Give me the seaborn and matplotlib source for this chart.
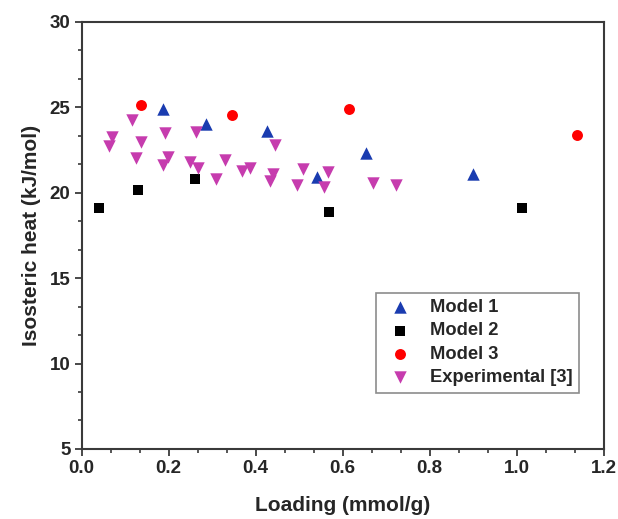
import numpy as np
import pandas as pd
import matplotlib
matplotlib.use("Agg")
import matplotlib.pyplot as plt
from matplotlib.ticker import MultipleLocator, AutoMinorLocator
import seaborn as sns

# ---- data ----
m1_x = [0.188, 0.287, 0.427, 0.541, 0.653, 0.899]
m1_y = [24.9, 24.0, 23.6, 20.93, 22.3, 21.1]

m2_x = [0.041, 0.129, 0.260, 0.569, 1.013]
m2_y = [19.12, 20.13, 20.79, 18.87, 19.12]

m3_x = [0.136, 0.346, 0.614, 1.139]
m3_y = [25.12, 24.54, 24.89, 23.40]

exp_x = [0.117, 0.069, 0.063, 0.136, 0.125, 0.191, 0.263, 0.199, 0.188, 0.249,
         0.267, 0.329, 0.310, 0.369, 0.387, 0.444, 0.441, 0.433, 0.509, 0.494,
         0.566, 0.557, 0.670, 0.723]
exp_y = [24.27, 23.26, 22.73, 22.95, 22.02, 23.51, 23.53, 22.06, 21.61, 21.77,
         21.47, 21.94, 20.78, 21.28, 21.42, 22.79, 21.12, 20.69, 21.39, 20.43,
         21.23, 20.34, 20.54, 20.43]

labels = ["Model 1", "Model 2", "Model 3", "Experimental [3]"]
xticks = [0.0, 0.2, 0.4, 0.6, 0.8, 1.0, 1.2]
yticks = [5, 10, 15, 20, 25, 30]

sns.set_style("white")
plt.rcParams['font.family'] = ['Liberation Sans', 'DejaVu Sans']
plt.rcParams['font.weight'] = 'bold'

fig = plt.figure(figsize=(6.18, 5.19), dpi=100)
ax = fig.add_axes([0.132, 0.135, 0.845, 0.823])

series = [
    (m1_x, m1_y, labels[0], '^', '#1a3cb0', 80),
    (m2_x, m2_y, labels[1], 's', '#000000', 58),
    (m3_x, m3_y, labels[2], 'o', '#ff0000', 62),
    (exp_x, exp_y, labels[3], 'v', '#c63cae', 80),
]
for xs, ys, lab, mk, col, s in series:
    df = pd.DataFrame({"Loading": xs, "Heat": ys})
    sns.scatterplot(data=df, x="Loading", y="Heat", ax=ax, marker=mk,
                    color=col, s=s, linewidth=0, label=lab)

ax.set_xlim(0, 1.2)
ax.set_ylim(5, 30)
ax.set_xticks(xticks)
ax.set_yticks(yticks)
ax.xaxis.set_minor_locator(AutoMinorLocator(3))
ax.yaxis.set_minor_locator(AutoMinorLocator(3))
ax.set_xticklabels([f"{v:.1f}" for v in xticks])
ax.set_yticklabels([str(v) for v in yticks])

for sp in ax.spines.values():
    sp.set_visible(True)
    sp.set_color('#3a3a3a')
    sp.set_linewidth(1.5)

ax.tick_params(axis='both', which='major', direction='out', length=5, width=1.3,
               color='#3a3a3a', labelsize=13.5, pad=3)
ax.tick_params(axis='both', which='minor', direction='out', length=3, width=1.2,
               color='#3a3a3a')
ax.tick_params(bottom=True, left=True, top=False, right=False, which='both')
for t in ax.get_xticklabels() + ax.get_yticklabels():
    t.set_fontweight('bold')

ax.set_xlabel("Loading (mmol/g)", fontsize=15, fontweight='bold', labelpad=14)
ax.set_ylabel("Isosteric heat (kJ/mol)", fontsize=15, fontweight='bold', labelpad=6)

leg = ax.legend(loc='upper left', bbox_to_anchor=(0.563, 0.366), frameon=True,
                fancybox=False, edgecolor='#707070',
                prop={'weight': 'bold', 'size': 13.2}, labelspacing=0.35,
                borderpad=0.35, handletextpad=0.6, handlelength=2.0,
                borderaxespad=0)
leg.get_frame().set_linewidth(1.2)

fig.savefig("out.png", dpi=100)
